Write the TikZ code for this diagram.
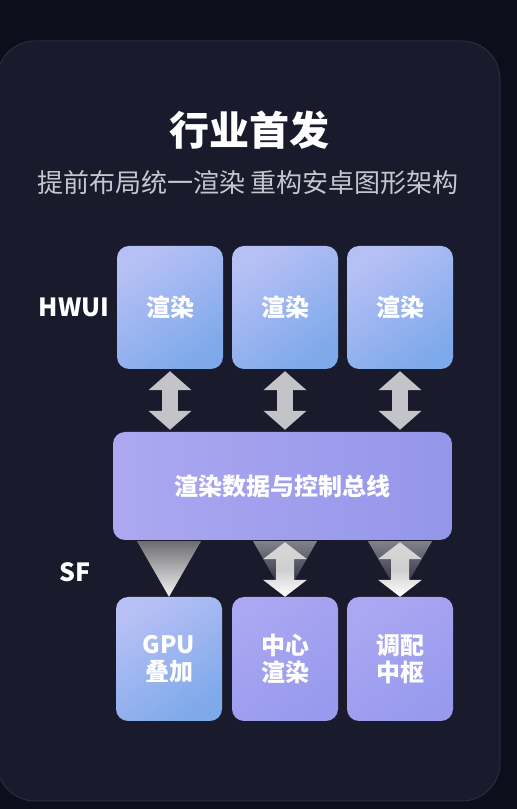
\documentclass[tikz,border=0pt]{standalone}
\usepackage{fontspec}
\newfontfamily\cjk{Noto Sans CJK SC}
\usetikzlibrary{arrows.meta,calc}
\definecolor{bgdark}{HTML}{0C0E1C}
\definecolor{cardfill}{HTML}{191A2B}
\definecolor{cardedge}{HTML}{2A2C3E}
\definecolor{subgray}{HTML}{C6C6CE}
\definecolor{blueA}{HTML}{B7C0F5}
\definecolor{blueB}{HTML}{7EA9EA}
\definecolor{busA}{HTML}{ACA8F1}
\definecolor{busB}{HTML}{9496EA}
\definecolor{purA}{HTML}{ABA7F2}
\definecolor{purB}{HTML}{979AEE}
\definecolor{arrowgray}{HTML}{C4C4C8}
\newcommand{\dblarrow}[3]{%
  \shade[#3] (#1)
    -- ($(#1)+(22,-17)$) -- ($(#1)+(9,-17)$)
    -- ($(#2)+(9,17)$) -- ($(#2)+(22,17)$)
    -- (#2)
    -- ($(#2)+(-22,17)$) -- ($(#2)+(-9,17)$)
    -- ($(#1)+(-9,-17)$) -- ($(#1)+(-22,-17)$) -- cycle;}
\begin{document}
\begin{tikzpicture}[x=1pt,y=1pt,
  box/.style={rounded corners=12pt, minimum width=106pt, minimum height=123pt,
    inner sep=0pt, text=white, align=center,
    font=\cjk\bfseries\fontsize{24}{27}\selectfont},
  bluebox/.style={box, top color=blueA, bottom color=blueB, shading angle=35},
  purbox/.style={box, top color=purA, bottom color=purB, shading angle=35},
  busbox/.style={box, minimum width=339pt, minimum height=108pt,
    left color=busA, right color=busB},
  sidelabel/.style={text=white, font=\cjk\bfseries\fontsize{25}{28}\selectfont, inner sep=0pt},
  grayarrow/.style={draw=arrowgray, line width=16pt,
    {Triangle[length=19pt,width=42pt]}-{Triangle[length=19pt,width=42pt]},
    shorten <=2pt, shorten >=2pt},
  fanlight/.style={top color=black!55!cardfill!60!white, bottom color=white!92!gray},
  fandark/.style={top color=white!45!cardfill, bottom color=cardfill},
  whitearrow/.style={top color=white!70!gray, bottom color=white, middle color=white!62!gray}
]
\useasboundingbox (0,0) rectangle (517,809);
\fill[bgdark] (0,0) rectangle (517,809);
\filldraw[fill=cardfill, draw=cardedge, line width=1pt, rounded corners=38pt]
  (-3,8) rectangle (500,768);

\node[text=white, font=\cjk\bfseries\fontsize{40}{44}\selectfont, inner sep=0pt]
  (title) at (249,679) {行业首发};
\node[text=subgray, font=\cjk\fontsize{26}{29}\selectfont, inner sep=0pt]
  (subtitle) at (248,626) {提前布局统一渲染 重构安卓图形架构};

\node[sidelabel] (hwui) at (74,502) {HWUI};
\node[sidelabel] (sf) at (75,237) {SF};

\node[bluebox] (r1) at (170,501.5) {渲染};
\node[bluebox] (r2) at (285,501.5) {渲染};
\node[bluebox] (r3) at (400,501.5) {渲染};

\node[busbox] (bus) at (282.5,323) {渲染数据与控制总线};

\node[bluebox, minimum height=124pt] (b1) at (169,150) {GPU\\叠加};
\node[purbox, minimum height=124pt] (b2) at (285,150) {中心\\渲染};
\node[purbox, minimum height=124pt] (b3) at (400,150) {调配\\中枢};

\draw[grayarrow] (r1.south) -- (r1.south |- bus.north);
\draw[grayarrow] (r2.south) -- (r2.south |- bus.north);
\draw[grayarrow] (r3.south) -- (r3.south |- bus.north);

\coordinate (t1) at (bus.south -| b1.north);
\coordinate (t2) at (bus.south -| b2.north);
\coordinate (t3) at (bus.south -| b3.north);

\shade[fanlight] ($(t1)+(-32,-1)$) -- ($(t1)+(32,-1)$) -- (b1.north) -- cycle;
\shade[fandark] ($(t2)+(-32,-1)$) -- ($(t2)+(32,-1)$) -- (b2.north) -- cycle;
\shade[fandark] ($(t3)+(-32,-1)$) -- ($(t3)+(32,-1)$) -- (b3.north) -- cycle;

\dblarrow{$(t2)+(0,-2)$}{b2.north}{whitearrow}
\dblarrow{$(t3)+(0,-2)$}{b3.north}{whitearrow}
\end{tikzpicture}
\end{document}
